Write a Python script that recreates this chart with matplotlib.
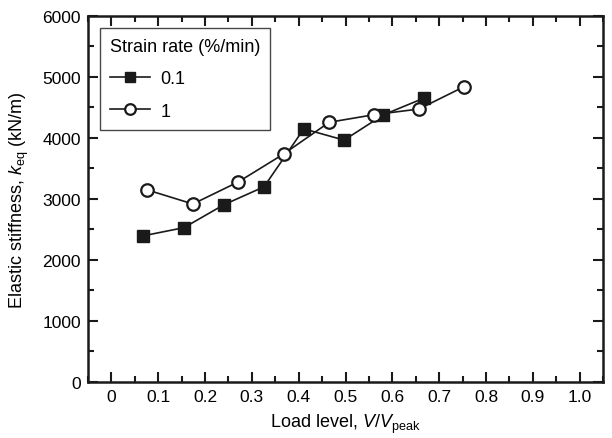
import matplotlib
matplotlib.use('Agg')
import matplotlib.pyplot as plt
from matplotlib.ticker import MultipleLocator

plt.rcParams['font.family'] = 'Liberation Sans'
plt.rcParams['mathtext.fontset'] = 'custom'
plt.rcParams['mathtext.rm'] = 'Liberation Sans'
plt.rcParams['mathtext.it'] = 'Liberation Sans:italic'

# strain rate 0.1 %/min
load_01 = [0.067, 0.155, 0.240, 0.326, 0.411, 0.497, 0.581, 0.668]
stiff_01 = [2395, 2530, 2905, 3200, 4150, 3965, 4380, 4655]

# strain rate 1 %/min
load_1 = [0.076, 0.174, 0.271, 0.368, 0.465, 0.561, 0.657, 0.753]
stiff_1 = [3150, 2918, 3280, 3738, 4257, 4382, 4475, 4840]

fig = plt.figure(figsize=(6.12, 4.39), dpi=100)
ax = fig.add_axes([0.1438, 0.1276, 0.8415, 0.8337])

ax.plot(load_01, stiff_01, '-s', color='#1a1a1a', lw=1.2, ms=8.5,
        mfc='#1a1a1a', mec='#1a1a1a', label='0.1')
ax.plot(load_1, stiff_1, '-o', color='#1a1a1a', lw=1.2, ms=9,
        mfc='white', mec='#1a1a1a', mew=1.6, label='1')

ax.set_xlim(-0.05, 1.05)
ax.set_ylim(0, 6000)
ax.xaxis.set_minor_locator(MultipleLocator(0.05))
ax.yaxis.set_major_locator(MultipleLocator(1000))
ax.yaxis.set_minor_locator(MultipleLocator(500))
ax.set_xticks([0, 0.1, 0.2, 0.3, 0.4, 0.5, 0.6, 0.7, 0.8, 0.9, 1.0])
ax.set_xticklabels(['0', '0.1', '0.2', '0.3', '0.4', '0.5', '0.6', '0.7', '0.8', '0.9', '1.0'])

ax.tick_params(which='both', direction='in', top=True, right=True,
               labelsize=12.5, color='#1a1a1a', width=1.5)
ax.tick_params(which='major', length=7, pad=5)
ax.tick_params(which='minor', length=4)
for s in ax.spines.values():
    s.set_linewidth(1.8)
    s.set_color('#1a1a1a')

ax.set_xlabel(r'Load level, $\mathit{V}/\mathit{V}_{\mathrm{peak}}$', fontsize=13, labelpad=6)
ax.set_ylabel(r'Elastic stiffness, $\mathit{k}_{\mathrm{eq}}$ (kN/m)', fontsize=13, labelpad=8)

leg = ax.legend(title='Strain rate (%/min)', loc='upper left',
                bbox_to_anchor=(0.023, 0.967), borderaxespad=0, fontsize=13,
                title_fontsize=13, frameon=True, fancybox=False,
                edgecolor='#1a1a1a', handlelength=2.2, handletextpad=0.6,
                borderpad=0.55, labelspacing=0.85, markerscale=0.85)
leg.get_frame().set_linewidth(1.0)
leg._legend_box.align = 'left'

fig.savefig('out.png', dpi=100)
